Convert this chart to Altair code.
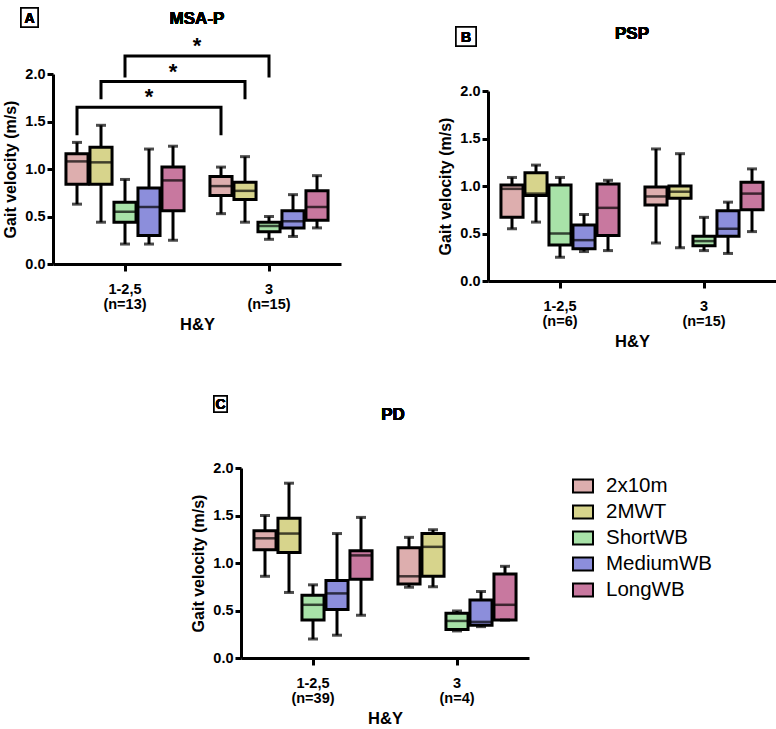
import altair as alt
import pandas as pd

FONT = "Liberation Sans"

GROUPS = ["1-2,5", "3"]
MEASURES = ["2x10m", "2MWT", "ShortWB", "MediumWB", "LongWB"]
COLORS = ["#DDAEAE", "#D7D48C", "#A8E2A8", "#8C8EDB", "#C8789F"]

# Box statistics, one inner list per H&Y group, values in MEASURES order
MSAP_N = ["(n=13)", "(n=15)"]
MSAP_LOW = [[0.63, 0.44, 0.21, 0.21, 0.25], [0.53, 0.44, 0.26, 0.29, 0.38]]
MSAP_Q1 = [[0.84, 0.84, 0.44, 0.30, 0.56], [0.72, 0.68, 0.34, 0.38, 0.46]]
MSAP_MED = [[1.08, 1.07, 0.55, 0.60, 0.88], [0.82, 0.77, 0.40, 0.45, 0.60]]
MSAP_Q3 = [[1.16, 1.23, 0.65, 0.80, 1.02], [0.92, 0.86, 0.44, 0.56, 0.77]]
MSAP_HIGH = [[1.28, 1.46, 0.89, 1.21, 1.24], [1.02, 1.13, 0.50, 0.73, 0.93]]

PSP_N = ["(n=6)", "(n=15)"]
PSP_LOW = [[0.55, 0.62, 0.25, 0.31, 0.32], [0.40, 0.35, 0.32, 0.29, 0.52]]
PSP_Q1 = [[0.67, 0.90, 0.38, 0.34, 0.48], [0.80, 0.87, 0.37, 0.47, 0.75]]
PSP_MED = [[0.97, 0.92, 0.50, 0.43, 0.77], [0.89, 0.94, 0.42, 0.55, 0.92]]
PSP_Q3 = [[1.01, 1.14, 1.01, 0.59, 1.02], [0.99, 1.00, 0.47, 0.74, 1.04]]
PSP_HIGH = [[1.09, 1.22, 1.09, 0.70, 1.06], [1.39, 1.34, 0.67, 0.83, 1.18]]

PD_N = ["(n=39)", "(n=4)"]
PD_LOW = [[0.86, 0.69, 0.20, 0.24, 0.45], [0.745, 0.75, 0.285, 0.33, 0.40]]
PD_Q1 = [[1.14, 1.11, 0.40, 0.51, 0.83], [0.78, 0.86, 0.30, 0.345, 0.40]]
PD_MED = [[1.26, 1.31, 0.56, 0.68, 1.08], [0.86, 1.17, 0.39, 0.38, 0.56]]
PD_Q3 = [[1.34, 1.47, 0.66, 0.815, 1.13], [1.16, 1.31, 0.47, 0.61, 0.885]]
PD_HIGH = [[1.50, 1.84, 0.77, 1.31, 1.48], [1.27, 1.35, 0.495, 0.70, 0.965]]

# Significance brackets in MSA-P (same measure, 1-2,5 vs 3)
SIG_MEASURES = ["2x10m", "2MWT", "ShortWB"]
SIG_LEG = [1.37, 1.75, 1.98]
SIG_TOP = [1.65, 1.92, 2.19]
SIG_LABEL = ["*", "*", "*"]

PLOT_W = 288
PLOT_H = 190
GROUP_STEP = PLOT_W / 2
LINE_W = 3


def box_table(low, q1, med, q3, high):
    rows = []
    for gi, g in enumerate(GROUPS):
        for mi, m in enumerate(MEASURES):
            rows.append(dict(group=g, measure=m, low=low[gi][mi], q1=q1[gi][mi],
                             med=med[gi][mi], q3=q3[gi][mi], high=high[gi][mi]))
    return pd.DataFrame(rows)


def panel(df, title, letter, n_labels, left=0, top=0, legend=None, sig=False,
          title_dx=0):
    """One box-plot panel; the plot rectangle starts `left`/`top` px into its view."""
    width = PLOT_W + left
    height = PLOT_H + top
    label_expr = (f"datum.label == '{GROUPS[0]}' ? ['{GROUPS[0]}', '{n_labels[0]}'] : "
                  f"['{GROUPS[1]}', '{n_labels[1]}']")
    x = alt.X("group:N",
              scale=alt.Scale(domain=GROUPS, range=[left, width],
                              paddingInner=1 / 6, paddingOuter=1 / 12),
              axis=alt.Axis(title="H&Y", labelExpr=label_expr, labelAngle=0,
                            labelFont=FONT, labelFontSize=14.5, labelFontWeight="bold",
                            labelColor="black", labelPadding=11, labelLineHeight=15,
                            domainColor="black", domainWidth=LINE_W, tickColor="black",
                            tickWidth=LINE_W, tickSize=7, titleFont=FONT,
                            titleFontSize=16.5, titleFontWeight="bold",
                            titleColor="black", titlePadding=6, grid=False))
    xo = alt.XOffset("measure:N",
                     scale=alt.Scale(domain=MEASURES, paddingInner=0.08, paddingOuter=0.04))
    y_axis = dict(title="Gait velocity (m/s)", values=[0, 0.5, 1, 1.5, 2],
                  format=".1f", labelFont=FONT, labelFontSize=14.5,
                  labelFontWeight="bold", labelColor="black", labelPadding=2,
                  domainColor="black", domainWidth=LINE_W, tickColor="black",
                  tickWidth=LINE_W, tickSize=6, titleFont=FONT, titleFontSize=16,
                  titleFontWeight="bold", titleColor="black", titlePadding=6,
                  grid=False)
    if left:
        y_axis["offset"] = -left
    y = alt.Y("low:Q",
              scale=alt.Scale(domain=[0, 2], nice=False, zero=True,
                              range=[height, top]),
              axis=alt.Axis(**y_axis))

    base = alt.Chart(df)
    whisker = base.mark_rule(color="black", strokeWidth=LINE_W).encode(
        x=x, xOffset=xo, y=y, y2="high:Q")
    boxes = base.mark_bar(stroke="black", strokeWidth=LINE_W).encode(
        x=x, xOffset=xo, y="q1:Q", y2="q3:Q",
        fill=alt.Fill("measure:N", scale=alt.Scale(domain=MEASURES, range=COLORS),
                      legend=legend))
    median = base.mark_tick(color="black", thickness=2.5, size=21).encode(
        x=x, xOffset=xo, y="med:Q")
    cap_low = base.mark_tick(color="black", thickness=LINE_W, size=10).encode(
        x=x, xOffset=xo, y="low:Q")
    cap_high = base.mark_tick(color="black", thickness=LINE_W, size=10).encode(
        x=x, xOffset=xo, y="high:Q")

    # panel letter in a small frame and the panel heading, placed from the plot corner
    bx0, by0, bx1, by1 = letter
    bx0, bx1 = bx0 + left, bx1 + left
    by0, by1 = by0 + top, by1 + top
    letter_box = alt.Chart(df).mark_rect(fill="white", stroke="black", strokeWidth=1.5).encode(
        x=alt.value(bx0), x2=alt.value(bx1), y=alt.value(by0), y2=alt.value(by1))
    letter_text = alt.Chart(df).mark_text(
        text=title[1], font=FONT, fontSize=14, fontWeight="bold", color="black",
        align="center", baseline="middle").encode(
        x=alt.value((bx0 + bx1) / 2), y=alt.value((by0 + by1) / 2 + 1))
    heading = alt.Chart(df).mark_text(
        text=title[0], font=FONT, fontSize=17, fontWeight="bold", color="black",
        align="center", baseline="middle").encode(
        x=alt.value(left + PLOT_W / 2 + title_dx), y=alt.value(top + title[2]))

    layers = [whisker, boxes, median, cap_low, cap_high, letter_box, letter_text, heading]

    if sig:
        pts = []
        for k, m in enumerate(SIG_MEASURES):
            pts += [dict(b=k, group=GROUPS[0], measure=m, v=SIG_LEG[k], o=0),
                    dict(b=k, group=GROUPS[0], measure=m, v=SIG_TOP[k], o=1),
                    dict(b=k, group=GROUPS[1], measure=m, v=SIG_TOP[k], o=2),
                    dict(b=k, group=GROUPS[1], measure=m, v=SIG_LEG[k], o=3)]
        sig_df = pd.DataFrame(pts)
        brackets = alt.Chart(sig_df).mark_line(color="black", strokeWidth=LINE_W,
                                                strokeCap="square").encode(
            x=x, xOffset=xo, y="v:Q", detail="b:N", order="o:Q")
        star_df = pd.DataFrame(dict(group=GROUPS[0], measure=SIG_MEASURES,
                                    v=SIG_TOP, t=SIG_LABEL))
        stars = alt.Chart(star_df).mark_text(
            font=FONT, fontSize=22, fontWeight="bold", color="black",
            dx=GROUP_STEP / 2, dy=-10, baseline="middle").encode(
            x=x, xOffset=xo, y="v:Q", text="t:N")
        layers += [brackets, stars]

    return alt.layer(*layers).properties(width=width, height=height)


legend = alt.Legend(orient="none", legendX=519, legendY=7, title=None,
                    symbolType="M-1,-0.65L1,-0.65L1,0.65L-1,0.65Z", symbolSize=400,
                    symbolStrokeColor="black", symbolStrokeWidth=2,
                    labelFont=FONT, labelFontSize=20.5, labelColor="black",
                    labelOffset=12, rowPadding=4, padding=0)

msap = panel(box_table(MSAP_LOW, MSAP_Q1, MSAP_MED, MSAP_Q3, MSAP_HIGH),
             ("MSA-P", "A", -55), (-32, -66, -15, -47), MSAP_N, sig=True)
psp = panel(box_table(PSP_LOW, PSP_Q1, PSP_MED, PSP_Q3, PSP_HIGH),
            ("PSP", "B", -57), (-32, -64, -12, -45), PSP_N, top=17)
pd_chart = panel(box_table(PD_LOW, PD_Q1, PD_MED, PD_Q3, PD_HIGH),
                 ("PD", "C", -53), (-27, -72, -14, -56), PD_N, left=188,
                 legend=legend, title_dx=8)

top_row = alt.hconcat(msap, psp, spacing=96).resolve_scale(fill="independent")
chart = alt.vconcat(top_row, pd_chart, spacing=45).resolve_scale(
    fill="independent").properties(
    padding={"left": 2, "top": 7, "right": 0, "bottom": 0},
    background="white").configure_view(stroke=None)

chart.save("out.html", embed_options={"renderer": "svg", "actions": False})
